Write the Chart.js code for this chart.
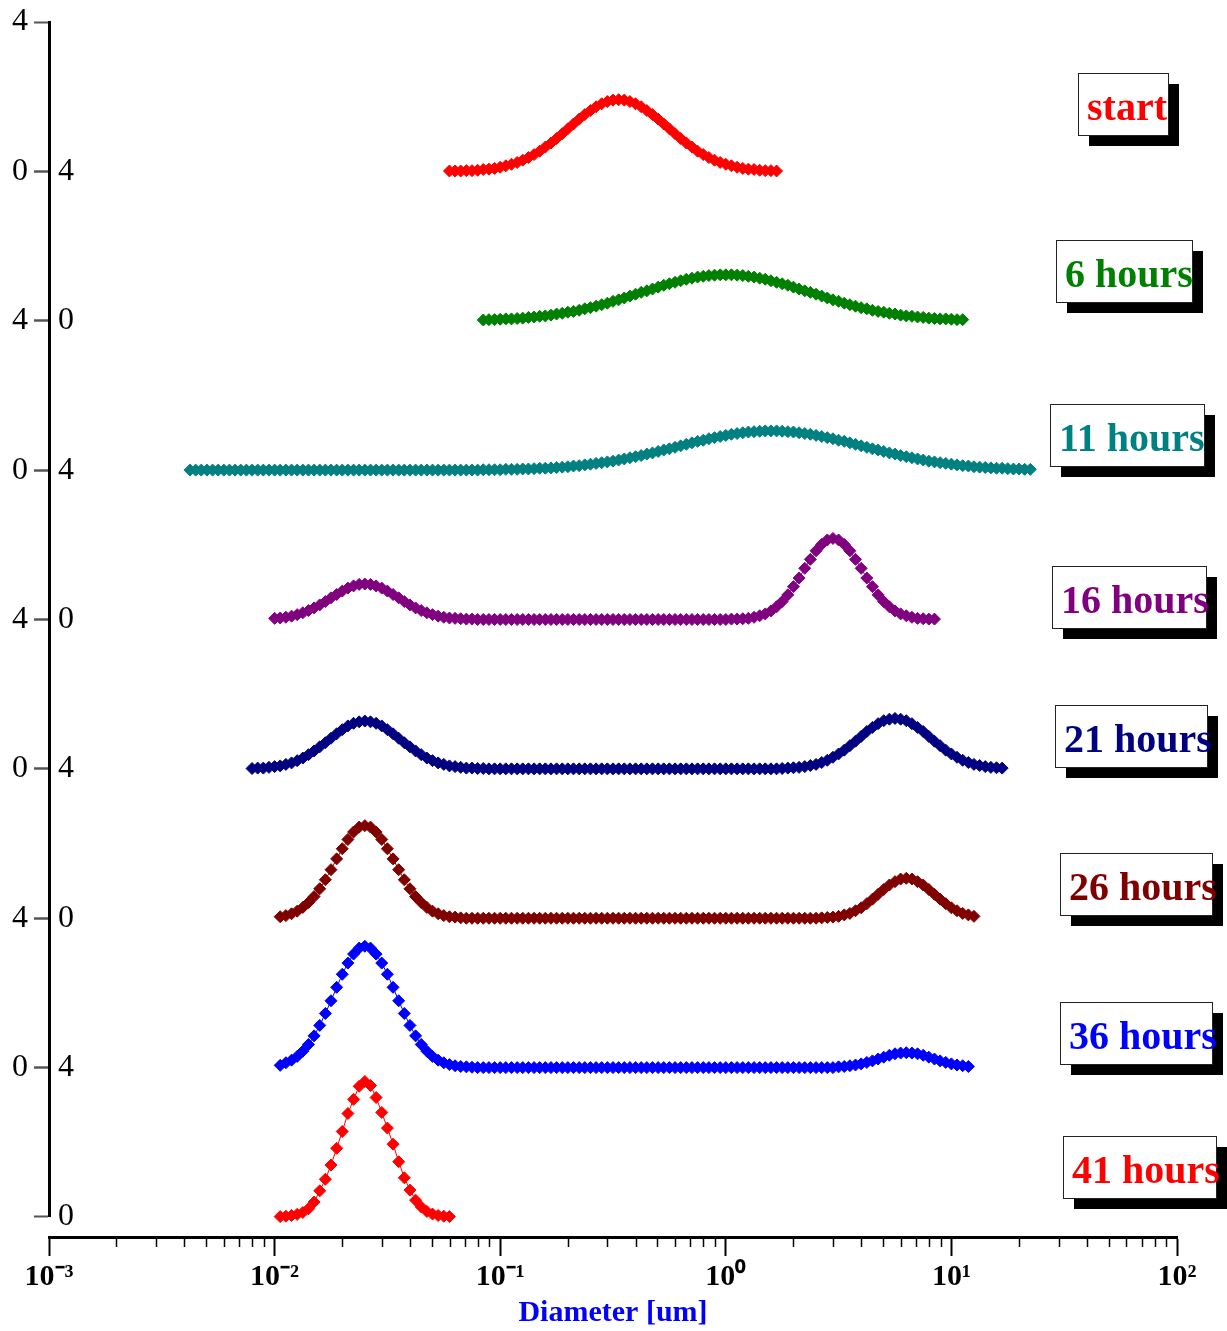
<!DOCTYPE html>
<html>
<head>
<meta charset="utf-8">
<title>Size distributions</title>
<script src="https://cdn.jsdelivr.net/npm/chart.js@4.4.1/dist/chart.umd.min.js"></script>
<style>
  html, body { margin: 0; padding: 0; background: #fff; }
  #wrap { width: 1227px; height: 1331px; }
</style>
</head>
<body>
<div id="wrap"><canvas id="chart"></canvas></div>
<script>
// diameter bins [um], 40 per decade
const diameters = [
  0.004217, 0.004467, 0.004732, 0.005012, 0.005309, 0.005623, 0.005957, 0.006310, 0.006683, 0.007079,
  0.007499, 0.007943, 0.008414, 0.008913, 0.009441,
  0.01000, 0.01059, 0.01122, 0.01189, 0.01259, 0.01334, 0.01413, 0.01496, 0.01585, 0.01679,
  0.01778, 0.01884, 0.01995, 0.02113, 0.02239, 0.02371, 0.02512, 0.02661, 0.02818, 0.02985,
  0.03162, 0.03350, 0.03548, 0.03758, 0.03981, 0.04217, 0.04467, 0.04732, 0.05012, 0.05309,
  0.05623, 0.05957, 0.06310, 0.06683, 0.07079, 0.07499, 0.07943, 0.08414, 0.08913, 0.09441,
  0.1000, 0.1059, 0.1122, 0.1189, 0.1259, 0.1334, 0.1413, 0.1496, 0.1585, 0.1679,
  0.1778, 0.1884, 0.1995, 0.2113, 0.2239, 0.2371, 0.2512, 0.2661, 0.2818, 0.2985,
  0.3162, 0.3350, 0.3548, 0.3758, 0.3981, 0.4217, 0.4467, 0.4732, 0.5012, 0.5309,
  0.5623, 0.5957, 0.6310, 0.6683, 0.7079, 0.7499, 0.7943, 0.8414, 0.8913, 0.9441,
  1.000, 1.059, 1.122, 1.189, 1.259, 1.334, 1.413, 1.496, 1.585, 1.679,
  1.778, 1.884, 1.995, 2.113, 2.239, 2.371, 2.512, 2.661, 2.818, 2.985,
  3.162, 3.350, 3.548, 3.758, 3.981, 4.217, 4.467, 4.732, 5.012, 5.309,
  5.623, 5.957, 6.310, 6.683, 7.079, 7.499, 7.943, 8.414, 8.913, 9.441,
  10.00, 10.59, 11.22, 11.89, 12.59, 13.34, 14.13, 14.96, 15.85, 16.79,
  17.78, 18.84, 19.95, 21.13, 22.39
];

const names = ['start', '6 hours', '11 hours', '16 hours', '21 hours', '26 hours', '36 hours', '41 hours'];
const colors = ['#ff0000', '#008000', '#008080', '#800080', '#000080', '#800000', '#0000ff', '#ff0000'];

// index of the first diameter bin of each series
const firstBin = [46, 52, 0, 15, 11, 16, 16, 16];

const start = [
  0.01, 0.01, 0.01, 0.02, 0.02, 0.03, 0.05, 0.06, 0.08, 0.11,
  0.15, 0.19, 0.24, 0.30, 0.37, 0.45, 0.54, 0.65, 0.76, 0.88,
  1.01, 1.14, 1.27, 1.40, 1.52, 1.63, 1.73, 1.81, 1.87, 1.91,
  1.92, 1.91, 1.87, 1.81, 1.73, 1.63, 1.52, 1.40, 1.27, 1.14,
  1.01, 0.88, 0.76, 0.65, 0.54, 0.45, 0.37, 0.30, 0.24, 0.19,
  0.15, 0.11, 0.08, 0.06, 0.05, 0.03, 0.02, 0.02, 0.01
];

const hours6 = [
  0.02, 0.03, 0.03, 0.04, 0.05, 0.05, 0.06, 0.07, 0.09, 0.10,
  0.12, 0.13, 0.15, 0.18, 0.20, 0.23, 0.25, 0.28, 0.32, 0.35,
  0.39, 0.43, 0.47, 0.52, 0.56, 0.61, 0.66, 0.71, 0.76, 0.80,
  0.85, 0.90, 0.95, 0.99, 1.03, 1.07, 1.11, 1.14, 1.17, 1.19,
  1.21, 1.22, 1.23, 1.23, 1.23, 1.22, 1.21, 1.19, 1.17, 1.14,
  1.11, 1.07, 1.03, 0.99, 0.95, 0.90, 0.85, 0.80, 0.76, 0.71,
  0.66, 0.61, 0.56, 0.52, 0.47, 0.43, 0.39, 0.35, 0.32, 0.28,
  0.25, 0.23, 0.20, 0.18, 0.15, 0.13, 0.12, 0.10, 0.09, 0.07,
  0.06, 0.05, 0.05, 0.04, 0.03, 0.03
];

const hours11 = [
  0, 0, 0, 0, 0, 0, 0, 0, 0, 0,
  0, 0, 0, 0, 0, 0, 0, 0, 0, 0,
  0, 0, 0, 0, 0, 0, 0, 0, 0, 0,
  0, 0, 0, 0, 0, 0, 0, 0, 0, 0,
  0, 0, 0, 0, 0, 0, 0, 0, 0, 0,
  0, 0,
  0.01, 0.01, 0.01, 0.01, 0.02, 0.02, 0.02, 0.03, 0.03, 0.04,
  0.05, 0.05, 0.06, 0.07, 0.08, 0.09, 0.11, 0.12, 0.14, 0.16,
  0.18, 0.20, 0.22, 0.24, 0.27, 0.30, 0.33, 0.36, 0.39, 0.43,
  0.46, 0.50, 0.54, 0.57, 0.61, 0.65, 0.69, 0.73, 0.77, 0.80,
  0.84, 0.87, 0.90, 0.93, 0.96, 0.98, 1.00, 1.02, 1.03, 1.04,
  1.05, 1.05, 1.05, 1.04, 1.03, 1.02, 1.00, 0.98, 0.96, 0.93,
  0.90, 0.87, 0.84, 0.80, 0.77, 0.73, 0.69, 0.65, 0.61, 0.57,
  0.54, 0.50, 0.46, 0.43, 0.39, 0.36, 0.33, 0.30, 0.27, 0.24,
  0.22, 0.20, 0.18, 0.16, 0.14, 0.12, 0.11, 0.09, 0.08, 0.07,
  0.06, 0.05, 0.05, 0.04, 0.03, 0.03, 0.02, 0.02
];

const hours16 = [
  0.03, 0.04, 0.06, 0.09, 0.13, 0.18, 0.24, 0.31, 0.39, 0.48,
  0.58, 0.67, 0.76, 0.84, 0.90, 0.94, 0.95, 0.94, 0.90, 0.84,
  0.76, 0.67, 0.58, 0.48, 0.39, 0.31, 0.24, 0.18, 0.13, 0.09,
  0.06, 0.04, 0.03, 0.02, 0.01, 0.01,
  0, 0, 0, 0, 0, 0, 0, 0, 0, 0,
  0, 0, 0, 0, 0, 0, 0, 0, 0, 0,
  0, 0, 0, 0, 0, 0, 0, 0, 0, 0,
  0, 0, 0, 0, 0, 0, 0, 0, 0, 0,
  0, 0, 0, 0, 0,
  0.01, 0.01, 0.02, 0.03, 0.06, 0.10, 0.15, 0.23, 0.34, 0.48,
  0.66, 0.88, 1.11, 1.37, 1.61, 1.84, 2.01, 2.13, 2.17, 2.13,
  2.01, 1.84, 1.61, 1.37, 1.11, 0.88, 0.66, 0.48, 0.34, 0.23,
  0.15, 0.10, 0.06, 0.03, 0.02, 0.01, 0.01
];

const hours21 = [
  0.01, 0.02, 0.02, 0.04, 0.06, 0.08, 0.12, 0.16, 0.22, 0.29,
  0.38, 0.48, 0.59, 0.70, 0.82, 0.94, 1.05, 1.15, 1.22, 1.26,
  1.28, 1.26, 1.22, 1.15, 1.05, 0.94, 0.82, 0.70, 0.59, 0.48,
  0.38, 0.29, 0.22, 0.16, 0.12, 0.08, 0.06, 0.04, 0.02, 0.02,
  0.01, 0.01,
  0, 0, 0, 0, 0, 0, 0, 0, 0, 0,
  0, 0, 0, 0, 0, 0, 0, 0, 0, 0,
  0, 0, 0, 0, 0, 0, 0, 0, 0, 0,
  0, 0, 0, 0, 0, 0, 0, 0, 0, 0,
  0, 0, 0, 0, 0, 0, 0, 0, 0, 0,
  0, 0,
  0.01, 0.02, 0.03, 0.04, 0.06, 0.09, 0.12, 0.17, 0.23, 0.31,
  0.40, 0.50, 0.62, 0.74, 0.87, 1.00, 1.11, 1.21, 1.29, 1.33,
  1.35, 1.33, 1.29, 1.21, 1.11, 1.00, 0.87, 0.74, 0.62, 0.50,
  0.40, 0.31, 0.23, 0.17, 0.12, 0.09, 0.06, 0.04, 0.03, 0.02
];

const hours26 = [
  0.04, 0.07, 0.12, 0.19, 0.29, 0.42, 0.58, 0.79, 1.03, 1.30,
  1.59, 1.86, 2.11, 2.31, 2.44, 2.48, 2.44, 2.31, 2.11, 1.86,
  1.59, 1.30, 1.03, 0.79, 0.58, 0.42, 0.29, 0.19, 0.12, 0.07,
  0.04, 0.03, 0.01,
  0, 0, 0, 0, 0, 0, 0, 0, 0, 0,
  0, 0, 0, 0, 0, 0, 0, 0, 0, 0,
  0, 0, 0, 0, 0, 0, 0, 0, 0, 0,
  0, 0, 0, 0, 0, 0, 0, 0, 0, 0,
  0, 0, 0, 0, 0, 0, 0, 0, 0, 0,
  0, 0, 0, 0, 0, 0, 0, 0, 0, 0,
  0, 0, 0,
  0.01, 0.02, 0.03, 0.05, 0.09, 0.13, 0.20, 0.28, 0.39, 0.51,
  0.64, 0.77, 0.89, 0.98, 1.05, 1.07, 1.05, 0.98, 0.89, 0.77,
  0.64, 0.51, 0.39, 0.28, 0.20, 0.13, 0.09, 0.05
];

const hours36 = [
  0.06, 0.13, 0.20, 0.30, 0.44, 0.62, 0.85, 1.13, 1.45, 1.79,
  2.15, 2.50, 2.80, 3.04, 3.20, 3.25, 3.20, 3.04, 2.80, 2.50,
  2.15, 1.79, 1.45, 1.13, 0.85, 0.62, 0.44, 0.30, 0.20, 0.13,
  0.08, 0.05, 0.03, 0.02, 0.01,
  0, 0, 0, 0, 0, 0, 0, 0, 0, 0,
  0, 0, 0, 0, 0, 0, 0, 0, 0, 0,
  0, 0, 0, 0, 0, 0, 0, 0, 0, 0,
  0, 0, 0, 0, 0, 0, 0, 0, 0, 0,
  0, 0, 0, 0, 0, 0, 0, 0, 0, 0,
  0, 0, 0, 0, 0, 0, 0, 0, 0, 0,
  0, 0, 0, 0,
  0.02, 0.03, 0.05, 0.07, 0.10, 0.14, 0.18, 0.23, 0.28, 0.33,
  0.37, 0.39, 0.40, 0.39, 0.37, 0.33, 0.28, 0.23, 0.18, 0.14,
  0.10, 0.07, 0.05, 0.03
];

const hours41 = [
  0.01, 0.02, 0.04, 0.07, 0.12, 0.22, 0.40, 0.70, 1.01, 1.39,
  1.84, 2.29, 2.77, 3.15, 3.50, 3.63, 3.52, 3.20, 2.80, 2.38,
  1.95, 1.48, 1.05, 0.72, 0.45, 0.27, 0.15, 0.08, 0.04, 0.02,
  0.01
];

const series = [start, hours6, hours11, hours16, hours21, hours26, hours36, hours41];

// x axis ticks
const decades = [0.001, 0.01, 0.1, 1, 10, 100];
const decadeLabels = ['10\u207B\u00B3', '10\u207B\u00B2', '10\u207B\u00B9', '10\u2070', '10\u00B9', '10\u00B2'];
const minorSteps = [2, 3, 4, 5, 6, 7, 8, 9];

// where the name boxes sit: left edge, offset from panel top, width
const nameBoxes = [
  { left: 1078, dy: 51, width: 90 },
  { left: 1056, dy: 69, width: 136 },
  { left: 1050, dy: 83, width: 154 },
  { left: 1052, dy: 96, width: 154 },
  { left: 1055, dy: 86, width: 152 },
  { left: 1060, dy: 84, width: 152 },
  { left: 1060, dy: 84, width: 152 },
  { left: 1063, dy: 68, width: 153 }
];

const serif = '"Liberation Serif", "Times New Roman", serif';

const xTicks = [];
decades.forEach((d, i) => {
  xTicks.push({ value: d, major: true });
  if (i < decades.length - 1) {
    minorSteps.forEach(s => xTicks.push({ value: d * s, major: false }));
  }
});

const datasets = series.map((values, i) => ({
  label: names[i],
  data: values.map((v, j) => ({ x: diameters[firstBin[i] + j], y: v })),
  yAxisID: 'y' + i,
  borderColor: colors[i],
  backgroundColor: colors[i],
  borderWidth: 1,
  pointStyle: 'rectRot',
  pointRadius: 6,
  pointHoverRadius: 6,
  pointBorderWidth: 1,
  showLine: true,
  fill: false,
  tension: 0,
  clip: false
}));

const scales = {
  x: {
    type: 'logarithmic',
    position: 'bottom',
    min: 0.001,
    max: 100,
    border: { display: true, width: 3, color: '#000' },
    grid: {
      drawOnChartArea: false,
      drawTicks: true,
      tickLength: 19,
      tickColor: '#000',
      tickWidth: ctx => (ctx.tick && ctx.tick.major ? 2 : 1.5),
      tickBorderDash: ctx => (ctx.tick && ctx.tick.major ? [] : [8, 40])
    },
    afterBuildTicks: scale => {
      scale.ticks = xTicks.map(t => ({ value: t.value, major: t.major }));
    },
    ticks: {
      autoSkip: false,
      maxRotation: 0,
      padding: 3,
      color: '#000',
      font: { family: serif, size: 30, weight: 'bold' },
      callback: value => {
        const i = decades.indexOf(value);
        return i < 0 ? '' : decadeLabels[i];
      }
    },
    title: {
      display: true,
      text: 'Diameter [um]',
      color: '#0000ff',
      font: { family: serif, size: 30, weight: 'bold', lineHeight: 1 },
      padding: { top: 0, bottom: 2 }
    }
  }
};

names.forEach((name, i) => {
  const mirrored = i % 2 === 1;
  scales['y' + i] = {
    type: 'linear',
    position: 'left',
    stack: 'panels',
    stackWeight: 1,
    weight: 8 - i,
    min: 0,
    max: 4,
    border: { display: true, width: 3, color: '#000' },
    grid: {
      drawOnChartArea: false,
      drawTicks: true,
      tickLength: 15,
      tickColor: '#555',
      tickWidth: 2
    },
    ticks: {
      stepSize: 4,
      mirror: mirrored,
      padding: mirrored ? 9 : 6,
      color: '#000',
      font: { family: serif, size: 32, lineHeight: 0.7 }
    }
  };
});

// empty strip between the last panel and the x axis
scales.gap = {
  type: 'linear',
  position: 'left',
  stack: 'panels',
  stackWeight: 0.134,
  weight: -1,
  min: 0,
  max: 1,
  border: { display: false },
  grid: { display: false },
  ticks: { display: false }
};

const nameBoxPlugin = {
  id: 'nameBoxes',
  afterDraw(chart) {
    const ctx = chart.ctx;
    const h = 62;
    const shadow = 11;
    ctx.save();
    names.forEach((name, i) => {
      const panel = chart.scales['y' + i];
      const b = nameBoxes[i];
      const top = Math.round(panel.top + b.dy);
      ctx.fillStyle = '#000';
      ctx.fillRect(b.left + shadow, top + shadow, b.width, h);
      ctx.fillStyle = '#fff';
      ctx.fillRect(b.left, top, b.width, h);
      ctx.strokeStyle = '#222';
      ctx.lineWidth = 1;
      ctx.strokeRect(b.left + 0.5, top + 0.5, b.width, h);
      ctx.fillStyle = colors[i];
      ctx.font = 'bold 40px ' + serif;
      ctx.textBaseline = 'alphabetic';
      ctx.textAlign = 'left';
      ctx.fillText(name, b.left + 9, top + 47);
    });
    ctx.restore();
  }
};

new Chart(document.getElementById('chart'), {
  type: 'line',
  data: { datasets },
  options: {
    responsive: true,
    maintainAspectRatio: false,
    animation: false,
    events: [],
    layout: { padding: { left: 6, right: 50, top: 22, bottom: 1 } },
    plugins: {
      legend: { display: false },
      tooltip: { enabled: false }
    },
    scales
  },
  plugins: [nameBoxPlugin]
});
</script>
</body>
</html>
